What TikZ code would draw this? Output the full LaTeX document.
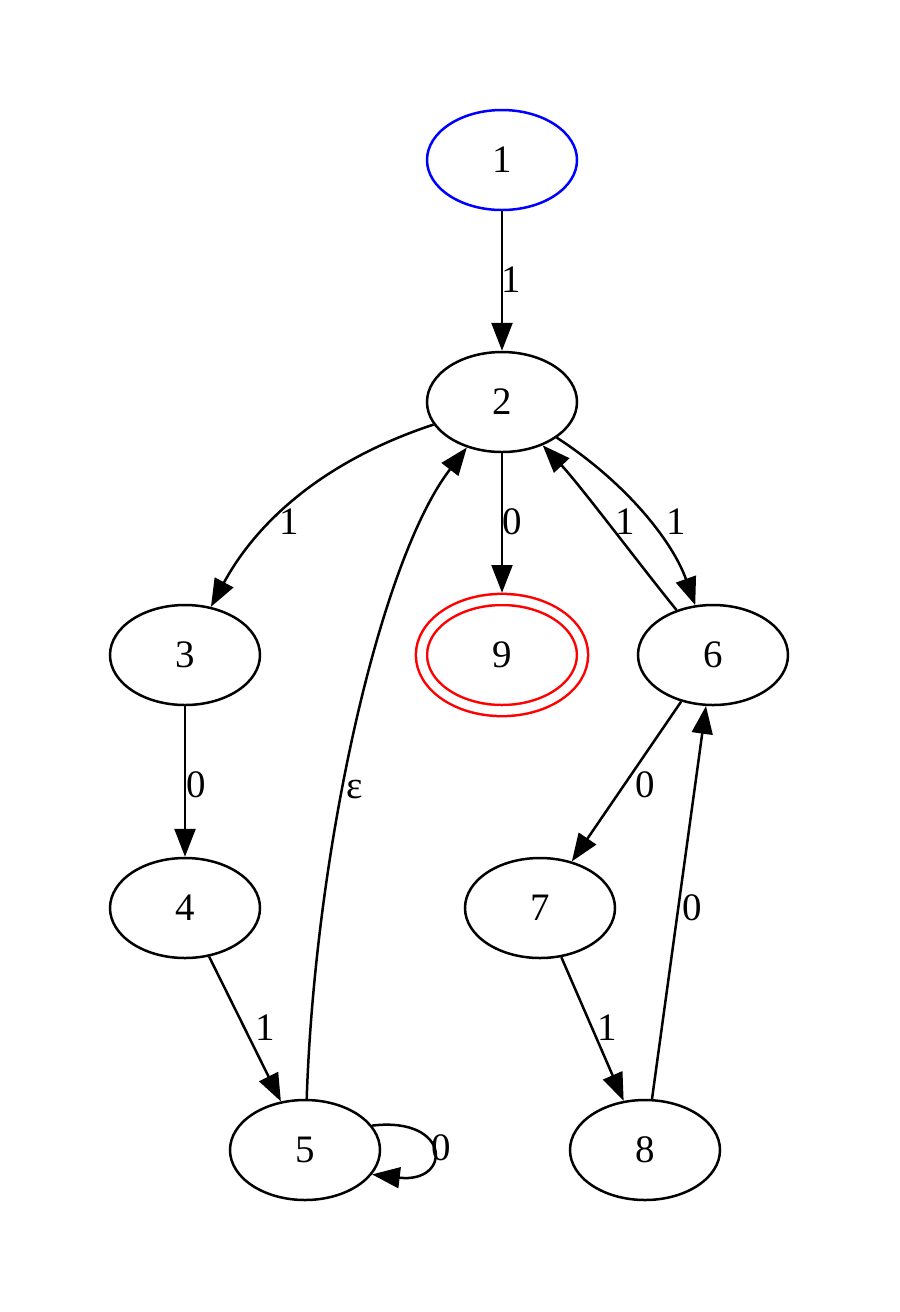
\documentclass[tikz,border=0pt]{standalone}
\usepackage{fontspec}
\setmainfont{Liberation Serif}
\usetikzlibrary{shapes.geometric, arrows.meta}

\begin{document}
\begin{tikzpicture}[
        x=0.36pt, y=-0.36pt,
        state/.style = {draw, ellipse, minimum width=54pt, minimum height=36pt, inner sep=0pt, line width=0.9pt, font=\fontsize{14}{16}\selectfont},
        start/.style = {state, draw=blue},
        final/.style = {state, draw=red, minimum width=58pt, minimum height=40pt, double=white, double distance=3.1pt, outer sep=2.4pt},
        arrow/.style = {draw=black, -{Triangle[length=10pt, width=7.5pt]}, line width=0.9pt},
        lbl/.style = {font=\fontsize{14}{16}\selectfont, inner sep=0pt}
    ]
        \useasboundingbox (0,0) rectangle (900,1312);

        % States
        \node (s1) [start] at (502,160)  {1};
        \node (s2) [state] at (502,402)  {2};
        \node (s3) [state] at (185,655)  {3};
        \node (s9) [final] at (502,655)  {9};
        \node (s6) [state] at (713,655)  {6};
        \node (s4) [state] at (185,908)  {4};
        \node (s7) [state] at (540,908)  {7};
        \node (s5) [state] at (305,1150) {5};
        \node (s8) [state] at (645,1150) {8};

        % Transitions
        \draw [arrow] (s1) -- (s2);
        \draw [arrow] (s2) .. controls (320,462) and (255,525) .. (s3);
        \draw [arrow] (s2) -- (s9);
        \draw [arrow] (s2) .. controls (625,482) and (672,540) .. (s6);
        \draw [arrow] (s6) .. controls (640,565) and (580,485) .. (s2);
        \draw [arrow] (s3) -- (s4);
        \draw [arrow] (s4) -- (s5);
        \draw [arrow] (s5) .. controls (315,850) and (380,560) .. (s2);
        \draw [arrow] (s5.20) .. controls (452,1116) and (452,1184) .. (s5.-20);
        \draw [arrow] (s6) -- (s7);
        \draw [arrow] (s7) -- (s8);
        \draw [arrow] (s8) -- (s6);

        % Labels
        \node (l12) [lbl] at (511,280)  {1};
        \node (l23) [lbl] at (289,522)  {1};
        \node (l29) [lbl] at (512,522)  {0};
        \node (l26) [lbl] at (676,522)  {1};
        \node (l62) [lbl] at (625,522)  {1};
        \node (l34) [lbl] at (196,785)  {0};
        \node (l45) [lbl] at (265,1028) {1};
        \node (l52) [lbl] at (355,790)  {ε};
        \node (l55) [lbl] at (441,1148) {0};
        \node (l67) [lbl] at (645,785)  {0};
        \node (l78) [lbl] at (607,1028) {1};
        \node (l86) [lbl] at (692,908)  {0};

    \end{tikzpicture}
\end{document}
